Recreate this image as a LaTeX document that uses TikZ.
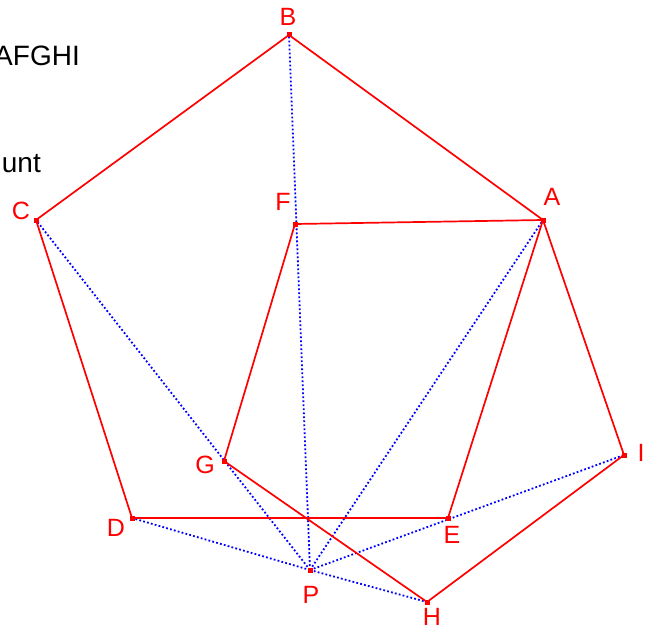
\documentclass[tikz,border=0pt]{standalone}
\usepackage{fontspec}
\setmainfont{Liberation Sans}
\begin{document}
\begin{tikzpicture}[x=1pt,y=-1pt,
  redline/.style={draw=red,line width=1.7pt},
  blueline/.style={draw=blue,line width=1.8pt,dash pattern=on 1.8pt off 2.2pt},
  pt/.style={fill=red,minimum size=5pt,inner sep=0pt,outer sep=0pt,rectangle},
  lab/.style={text=red,font=\fontsize{25}{27}\selectfont,inner sep=0pt},
  txt/.style={text=black,font=\fontsize{28}{30}\selectfont,inner sep=0pt}]
\useasboundingbox (0,0) rectangle (655,631);
\clip (0,0) rectangle (655,631);
\coordinate (A) at (543,220);
\coordinate (B) at (289,35);
\coordinate (C) at (36,220);
\coordinate (D) at (132,518);
\coordinate (E) at (448,518);
\coordinate (F) at (295,224);
\coordinate (G) at (224,461);
\coordinate (H) at (427,602);
\coordinate (I) at (624,455);
\coordinate (P) at (310,570);
\node[txt,anchor=base east] (t1) at (80,66) {AFGHI};
\node[txt,anchor=base east] (t2) at (41,172) {unt};
\foreach \x in {B,C,A,D,I,H} \draw[blueline] (P) -- (\x);
\draw[redline] (B) -- (A) (B) -- (C) (C) -- (D) (D) -- (E) (A) -- (F) (F) -- (G) (G) -- (H) (H) -- (I) (I) -- (A) (A) -- (E);
\foreach \x in {A,B,C,D,E,F,G,H,I,P} \node[pt] (p\x) at (\x) {};
\node[lab] (lA) at (552,197) {A};
\node[lab] (lB) at (288,17) {B};
\node[lab] (lC) at (21,211) {C};
\node[lab] (lD) at (116,528) {D};
\node[lab] (lE) at (452,535) {E};
\node[lab] (lF) at (283,202) {F};
\node[lab] (lG) at (205,465) {G};
\node[lab] (lH) at (432,617) {H};
\node[lab] (lI) at (641,453) {I};
\node[lab] (lP) at (311,595) {P};
\end{tikzpicture}
\end{document}
